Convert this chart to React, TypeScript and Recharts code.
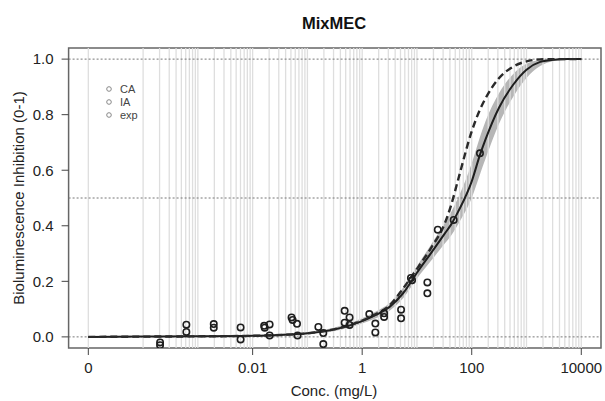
import {
  ComposedChart, Line, Area, Scatter, XAxis, YAxis, ReferenceLine, ReferenceArea, Customized,
} from "recharts";

const FONT = "'Liberation Sans', Arial, Helvetica, sans-serif";

// fitted curves, x = log10(conc in mg/L); the "0" tick sits at 1e-5
const curveLogConc = [-5, -4, -3, -2, -1.5, -1, -0.5, 0, 0.25, 0.5, 0.75, 1, 1.25, 1.5, 1.625, 1.75, 2, 2.15, 2.25, 2.5, 2.75, 3, 3.25, 3.5, 3.75, 4];
const iaCurve = [0, 0.001, 0.002, 0.004, 0.007, 0.013, 0.027, 0.057, 0.079, 0.108, 0.158, 0.231, 0.3, 0.37, 0.405, 0.45, 0.56, 0.655, 0.71, 0.826, 0.906, 0.962, 0.99, 0.998, 1, 1];
const caCurve = [0, 0.001, 0.002, 0.004, 0.007, 0.013, 0.028, 0.059, 0.082, 0.113, 0.175, 0.245, 0.318, 0.405, 0.475, 0.565, 0.74, 0.818, 0.858, 0.932, 0.972, 0.992, 0.999, 1, 1, 1];
const iaBandLow = [0, 0, 0, 0.002, 0.004, 0.009, 0.021, 0.048, 0.067, 0.094, 0.14, 0.21, 0.272, 0.334, 0.365, 0.405, 0.5, 0.585, 0.64, 0.768, 0.862, 0.932, 0.975, 0.993, 0.999, 1];
const iaBandHigh = [0.002, 0.003, 0.005, 0.007, 0.01, 0.017, 0.034, 0.067, 0.091, 0.122, 0.178, 0.255, 0.33, 0.408, 0.45, 0.5, 0.625, 0.72, 0.775, 0.878, 0.945, 0.983, 0.997, 1, 1, 1];

// experimental points
const expLogConc = [-3.69, -3.69, -3.21, -3.21, -2.71, -2.71, -2.22, -2.22, -1.79, -1.78, -1.69, -1.69, -1.29, -1.27, -1.19, -1.18, -0.8, -0.71, -0.71, -0.32, -0.23, -0.32, -0.23, 0.13, 0.24, 0.24, 0.4, 0.4, 0.71, 0.71, 0.89, 0.91, 1.19, 1.19, 1.38, 1.67, 2.15];
const expInhibition = [-0.02, -0.03, 0.044, 0.018, 0.046, 0.033, 0.034, -0.009, 0.04, 0.033, 0.045, 0.005, 0.07, 0.061, 0.047, 0.005, 0.036, 0.014, -0.026, 0.094, 0.07, 0.051, 0.043, 0.082, 0.048, 0.016, 0.085, 0.072, 0.098, 0.067, 0.212, 0.204, 0.196, 0.157, 0.386, 0.421, 0.661];

const xTickValues = [-5, -2, 0, 2, 4];
const xTickLabels = ["0", "0.01", "1", "100", "10000"];
const yTickValues = [0, 0.2, 0.4, 0.6, 0.8, 1];
const hLines = [0, 0.5, 1];
const legendItems = ["CA", "IA", "exp"];

// light vertical lines at 1..9 x 10^k
const gridDecades = [-4, -3, -2, -1, 0, 1, 2, 3];
const gridSteps = [1, 2, 3, 4, 5, 6, 7, 8, 9];
const vLines = [-5, ...gridDecades.flatMap(d => gridSteps.map(s => d + Math.log10(s))), 4];

const curveRows = curveLogConc.map((x, i) => ({
  x, ia: iaCurve[i], ca: caCurve[i], band: [iaBandLow[i], iaBandHigh[i]],
}));
const expRows = expLogConc.map((x, i) => ({ x, y: expInhibition[i] }));

const Ring = (p: any) => (
  <circle cx={p.cx} cy={p.cy} r={3.2} fill="none" stroke="#1e1e1e" strokeWidth={1.6} />
);

const Decorations = () => (
  <g fontFamily={FONT}>
    <text x={334} y={29} textAnchor="middle" fontSize={16.5} fontWeight="bold" fill="#111">MixMEC</text>
    <text x={334} y={396} textAnchor="middle" fontSize={15} fill="#222">Conc. (mg/L)</text>
    <text x={24} y={198} textAnchor="middle" fontSize={15} fill="#222" transform="rotate(-90 24 198)">
      Bioluminescence Inhibition (0-1)
    </text>
    {legendItems.map((t, i) => (
      <g key={t}>
        <circle cx={109} cy={89 + i * 13} r={2.3} fill="none" stroke="#888" strokeWidth={1} />
        <text x={120} y={93 + i * 13} fontSize={11} fill="#444">{t}</text>
      </g>
    ))}
  </g>
);

export default function App() {
  return (
    <div style={{ position: "fixed", left: 0, top: 0, background: "#fff" }}>
      <ComposedChart width={605} height={401} data={curveRows} margin={{ top: 48, right: 4, bottom: 23, left: 8 }}>
        <XAxis
          type="number"
          dataKey="x"
          domain={[-5.36, 4.36]}
          ticks={xTickValues}
          tickFormatter={(v: number) => xTickLabels[xTickValues.indexOf(v)] ?? ""}
          allowDataOverflow
          axisLine={false}
          tickLine={{ stroke: "#444" }}
          tickSize={7}
          tickMargin={7}
          height={30}
          tick={{ fill: "#222", fontSize: 15, fontFamily: FONT }}
        />
        <YAxis
          type="number"
          domain={[-0.04, 1.04]}
          ticks={yTickValues}
          tickFormatter={(v: number) => v.toFixed(1)}
          allowDataOverflow
          axisLine={false}
          tickLine={{ stroke: "#444" }}
          tickSize={7}
          tickMargin={8}
          width={60.6}
          tick={{ fill: "#222", fontSize: 15, fontFamily: FONT }}
        />
        {vLines.map(v => (
          <ReferenceLine key={"v" + v} x={v} stroke="#dedede" strokeWidth={1.3} />
        ))}
        {hLines.map(h => (
          <ReferenceLine key={"h" + h} y={h} stroke="#777" strokeWidth={1} strokeDasharray="2 2" />
        ))}
        <Area
          dataKey="band"
          type="monotone"
          stroke="none"
          fill="#a9a9a9"
          fillOpacity={0.85}
          isAnimationActive={false}
        />
        <Line dataKey="ia" type="monotone" stroke="#1e1e1e" strokeWidth={2} dot={false} isAnimationActive={false} />
        <Line dataKey="ca" type="monotone" stroke="#2a2a2a" strokeWidth={2.4} strokeDasharray="7 4" dot={false} isAnimationActive={false} />
        <Scatter data={expRows} dataKey="y" shape={Ring} isAnimationActive={false} />
        <ReferenceArea x1={-5.36} x2={4.36} y1={-0.04} y2={1.04} fill="none" stroke="#666" strokeWidth={1.5} />
        <Customized component={Decorations} />
      </ComposedChart>
    </div>
  );
}
